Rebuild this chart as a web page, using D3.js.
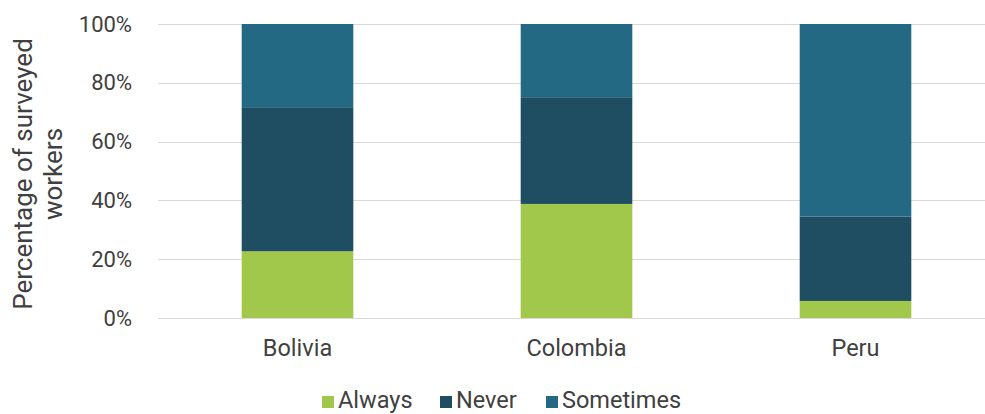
<!DOCTYPE html>
<html>
<head>
<meta charset="utf-8">
<script src="https://cdn.jsdelivr.net/npm/d3@7"></script>
<style>
  html, body { margin: 0; padding: 0; background: #fff; }
  text { font-family: Roboto, "Noto Sans", sans-serif; fill: #404040; }
</style>
</head>
<body>
<svg id="chart" width="985" height="414"></svg>
<script>
// Survey answers by country (share of surveyed workers, %)
const countries = ["Bolivia", "Colombia", "Peru"];
const seriesNames = ["Always", "Never", "Sometimes"];
const always = [22.7, 38.8, 5.8];
const never = [49.0, 36.3, 28.7];
const sometimes = [28.3, 24.9, 65.5];
const tickValues = [0, 20, 40, 60, 80, 100];
const colors = ["#a2c84b", "#1f4d61", "#246984"];

const rows = countries.map((c, i) => ({
  country: c, Always: always[i], Never: never[i], Sometimes: sometimes[i]
}));

const svg = d3.select("#chart");
const margin = { left: 158, right: -10, top: 24, bottom: 96 };
const W = 985, H = 414;

const x = d3.scaleBand()
  .domain(countries)
  .range([margin.left, W - margin.right])
  .paddingInner(0.6)
  .paddingOuter(0.3);

const y = d3.scaleLinear().domain([0, 100]).range([H - margin.bottom, margin.top]);

// Horizontal gridlines
svg.append("g")
  .selectAll("line")
  .data(tickValues)
  .join("line")
  .attr("x1", margin.left)
  .attr("x2", W)
  .attr("y1", d => Math.round(y(d)) + 0.5)
  .attr("y2", d => Math.round(y(d)) + 0.5)
  .attr("stroke", "#d9d9d9")
  .attr("stroke-width", 1);

// Y axis tick labels
const yAxis = d3.axisLeft(y).tickValues(tickValues).tickFormat(d => d + "%").tickSize(0).tickPadding(0);
svg.append("g")
  .attr("transform", `translate(132,0)`)
  .call(yAxis)
  .call(g => g.select(".domain").remove())
  .call(g => g.selectAll("text")
    .style("font-family", "Roboto, sans-serif")
    .style("font-size", "22px")
    .attr("fill", "#404040"));

// Stacked bars
const stack = d3.stack().keys(seriesNames);
const stacked = stack(rows);

svg.append("g")
  .selectAll("g")
  .data(stacked)
  .join("g")
  .attr("fill", (d, i) => colors[i])
  .selectAll("rect")
  .data(d => d)
  .join("rect")
  .attr("x", d => x(d.data.country))
  .attr("width", x.bandwidth())
  .attr("y", d => y(d[1]))
  .attr("height", d => y(d[0]) - y(d[1]));

// X axis category labels
const xAxis = d3.axisBottom(x).tickSize(0).tickPadding(0);
svg.append("g")
  .attr("transform", `translate(0,339)`)
  .call(xAxis)
  .call(g => g.select(".domain").remove())
  .call(g => g.selectAll("text")
    .style("font-family", "Roboto, sans-serif")
    .style("font-size", "23.5px")
    .attr("fill", "#404040"));

// Y axis title (two lines)
const title = svg.append("g")
  .attr("transform", `translate(0,174) rotate(-90)`);
title.append("text")
  .attr("x", 0).attr("y", 32)
  .attr("text-anchor", "middle")
  .style("font-size", "26px")
  .text("Percentage of surveyed");
title.append("text")
  .attr("x", 0).attr("y", 62)
  .attr("text-anchor", "middle")
  .style("font-size", "26px")
  .text("workers");

// Legend
const legendX = [322, 440, 546];
const legend = svg.append("g")
  .selectAll("g")
  .data(seriesNames)
  .join("g")
  .attr("transform", (d, i) => `translate(${legendX[i]},400)`);
legend.append("rect")
  .attr("x", 0).attr("y", -4)
  .attr("width", 12).attr("height", 12)
  .attr("fill", (d, i) => colors[i]);
legend.append("text")
  .attr("x", 16).attr("y", 0)
  .attr("dominant-baseline", "central")
  .style("font-size", "23.5px")
  .text(d => d);
</script>
</body>
</html>
